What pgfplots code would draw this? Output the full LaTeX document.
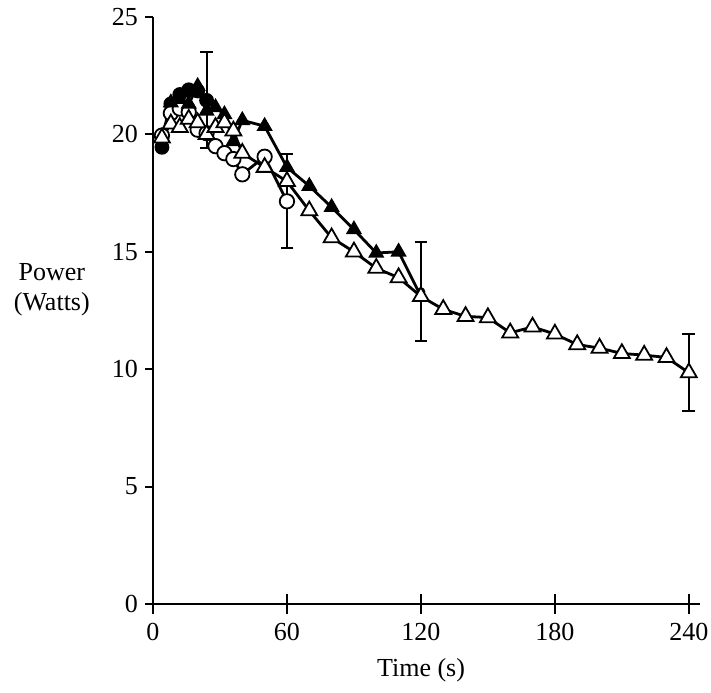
\documentclass[border=0pt]{standalone}
\usepackage{fontspec}
\setmainfont{Liberation Serif}
\usepackage{pgfplots}
\pgfplotsset{compat=1.18}
\begin{document}
\begin{tikzpicture}
\begin{axis}[
  at={(0,0)}, anchor=origin,
  scale only axis, width=273.5pt, height=293.5pt,
  xmin=0, xmax=245, ymin=0, ymax=25,
  axis lines=left, axis line style={-, line width=1pt},
  xtick={0,60,120,180,240}, ytick={0,5,10,15,20,25},
  xtick align=center, ytick align=outside,
  major tick length=4pt,
  tick style={line width=1pt, black},
  x tick style={yscale=2.4},
  /pgf/number format/assume math mode=true,
  tick label style={font=\fontsize{13}{15}\selectfont},
  xticklabel style={yshift=-4pt},
  xlabel={Time (s)},
  ylabel={Power\\(Watts)},
  every axis x label/.style={at={(axis description cs:0.49,-0.112)}, anchor=center, font=\fontsize{13}{15}\selectfont},
  every axis y label/.style={at={(axis description cs:-0.185,0.535)}, anchor=center, align=center, font=\fontsize{13}{15}\selectfont},
  clip=false,
]
% error bars
\addplot[only marks, mark=none, forget plot,
  error bars/.cd, y dir=both, y explicit,
  error bar style={draw=black, line width=1pt},
  error mark options={rotate=90, mark size=3.2pt, line width=1pt, draw=black}]
  coordinates {(24,21.45) +- (0,2.05) (60,17.15) +- (0,2.0) (120,13.3) +- (0,2.1) (240,9.85) +- (0,1.65)};
% filled circles
\addplot[black, line width=1.4pt, mark=*, mark options={solid, line width=0.8pt, fill=black, mark size=3.3pt}]
  coordinates {(4,19.45) (8,21.3) (12,21.7) (16,21.9) (20,21.85) (24,21.45)};
% open circles
\addplot[black, line width=1.4pt, mark=*, mark options={solid, line width=0.9pt, draw=black, fill=white, mark size=3.6pt}]
  coordinates {(4,19.95) (8,20.9) (12,21.1) (16,20.95) (20,20.2) (24,20.05) (28,19.5) (32,19.2) (36,18.95) (40,18.3) (50,19.05) (60,17.15)};
% filled triangles
\addplot[black, line width=1.4pt, mark=triangle*, mark options={solid, line width=0.8pt, fill=black, mark size=3.9pt}]
  coordinates {(4,19.85) (8,21.35) (12,21.5) (16,21.3) (20,22.05) (24,21.0) (28,21.15) (32,20.85) (36,19.7) (40,20.6) (50,20.35) (60,18.6) (70,17.8) (80,16.9) (90,15.95) (100,14.95) (110,15.0) (120,13.1)};
% open triangles
\addplot[black, line width=1.4pt, mark=triangle*, mark options={solid, line width=0.9pt, fill=white, mark size=4.6pt}]
  coordinates {(4,19.85) (8,20.45) (12,20.3) (16,20.65) (20,20.5) (24,20.0) (28,20.3) (32,20.5) (36,20.15) (40,19.2) (50,18.6) (60,18.0) (70,16.75) (80,15.6) (90,15.0) (100,14.3) (110,13.9) (120,13.1) (130,12.55) (140,12.25) (150,12.2) (160,11.55) (170,11.8) (180,11.5) (190,11.05) (200,10.9) (210,10.67) (220,10.6) (230,10.5) (240,9.85)};
\end{axis}
\pgfresetboundingbox
\path[use as bounding box] (-76.5pt,-44pt) rectangle (279pt,302pt);
\end{tikzpicture}
\end{document}
